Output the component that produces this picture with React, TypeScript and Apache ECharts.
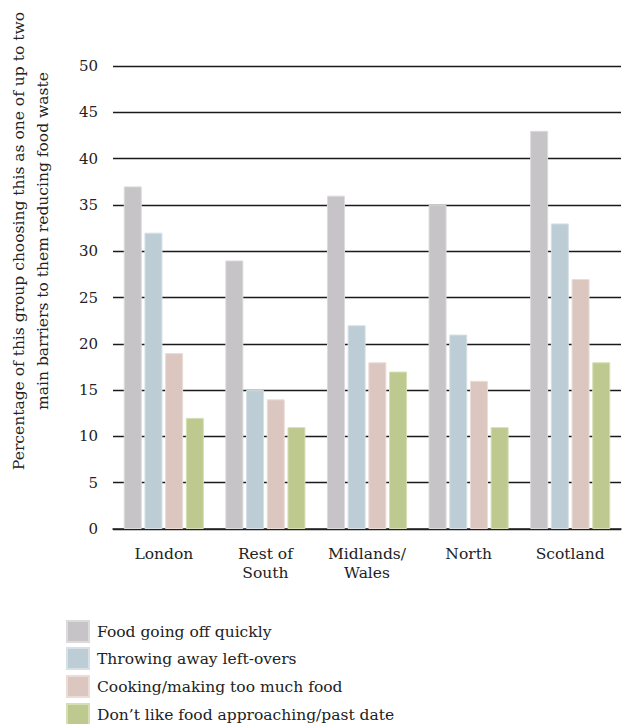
import React, { useEffect, useRef } from "react";
import * as echarts from "echarts";

const categories = ["London", "Rest of\nSouth", "Midlands/\nWales", "North", "Scotland"];
const seriesNames = [
  "Food going off quickly",
  "Throwing away left-overs",
  "Cooking/making too much food",
  "Don\u2019t like food approaching/past date",
];
const foodGoingOff = [37, 29, 36, 35, 43];
const throwingAway = [32, 15, 22, 21, 33];
const cookingTooMuch = [19, 14, 18, 16, 27];
const dontLikeDate = [12, 11, 17, 11, 18];
const colors = ["#c6c4c7", "#bdcdd6", "#dbc7c0", "#bdc98f"];
const borderColors = ["#dcdadc", "#d6e0e6", "#ebdcd7", "#d6dfb4"];
const yTicks = { min: 0, max: 50, interval: 5 };
const yTitle = "Percentage of this group choosing this as one of up to two\nmain barriers to them reducing food waste";

const FONT = "'DejaVu Serif', serif";
const legendTops = [620, 647, 675, 703];

export default function App() {
  const ref = useRef<HTMLDivElement>(null);
  useEffect(() => {
    document.body.style.margin = "0";
    if (!ref.current) return;
    const chart = echarts.init(ref.current, undefined, { renderer: "svg" });
    const values = [foodGoingOff, throwingAway, cookingTooMuch, dontLikeDate];
    chart.setOption({
      animation: false,
      backgroundColor: "#ffffff",
      grid: { left: 113, right: 5, top: 66, bottom: 724 - 529, containLabel: false },
      legend: seriesNames.map((name, i) => ({
        orient: "horizontal",
        left: 66,
        top: legendTops[i],
        padding: 0,
        itemWidth: 22,
        itemHeight: 21,
        icon: "rect",
        data: [name],
        textStyle: { fontFamily: FONT, fontSize: 15.5, color: "#222", padding: [0, 0, 0, 3] },
      })),
      xAxis: {
        type: "category",
        data: categories,
        axisLine: { show: true, lineStyle: { color: "#222", width: 1.5 } },
        axisTick: { show: false },
        axisLabel: {
          fontFamily: FONT,
          fontSize: 15.5,
          color: "#222",
          margin: 15,
          lineHeight: 19,
          interval: 0,
        },
      },
      yAxis: {
        type: "value",
        min: yTicks.min,
        max: yTicks.max,
        interval: yTicks.interval,
        axisLine: { show: false },
        axisTick: { show: false },
        axisLabel: { fontFamily: FONT, fontSize: 15, color: "#222", margin: 15 },
        splitLine: { lineStyle: { color: "#1a1a1a", width: 1.3 } },
      },
      graphic: [
        {
          type: "text",
          x: 31,
          y: 241,
          rotation: Math.PI / 2,
          style: {
            text: yTitle,
            fontFamily: FONT,
            fontSize: 15.5,
            lineHeight: 24,
            fill: "#222",
            align: "center",
            verticalAlign: "middle",
          },
        },
      ],
      series: values.map((v, i) => ({
        name: seriesNames[i],
        type: "bar",
        data: v,
        barWidth: 18,
        barGap: "15%",
        itemStyle: { color: colors[i], borderColor: borderColors[i], borderWidth: 1 },
      })),
    });
    return () => chart.dispose();
  }, []);
  return <div ref={ref} style={{ width: 626, height: 724 }} />;
}
